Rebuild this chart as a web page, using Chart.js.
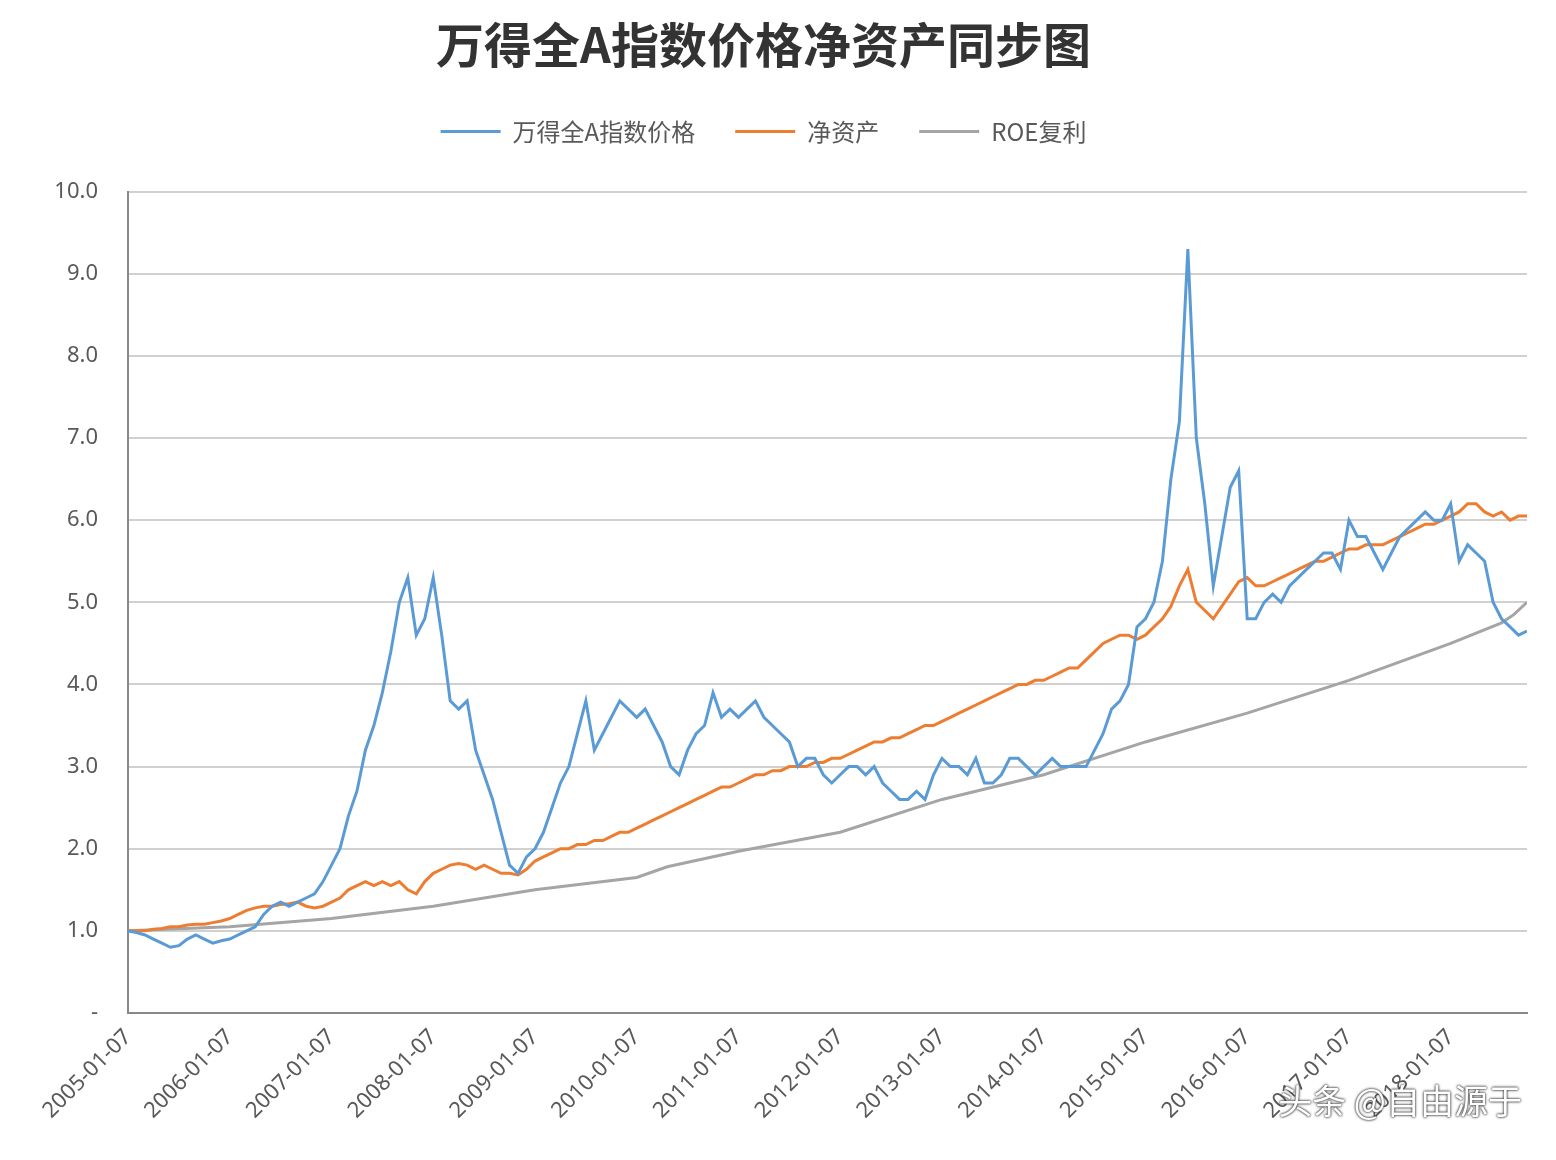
<!DOCTYPE html>
<html>
<head>
<meta charset="utf-8">
<script src="https://cdn.jsdelivr.net/npm/chart.js@4"></script>
<style>
  html, body { margin: 0; padding: 0; background: #fff; }
  #wrap { position: relative; width: 1556px; height: 1160px; }
  #mark { position: absolute; right: 34px; bottom: 36px; font: 34px "Noto Sans CJK SC"; color: #fff;
          text-shadow: 0 0 3px #333, 0 0 2px #333; }
</style>
</head>
<body>
<div id="wrap">
<canvas id="c" width="1556" height="1160"></canvas>
<div id="mark">头条 @自由源于</div>
</div>
<script>
// monthly estimates, first value = 2005-01
const priceMonthly = [
  1.0,0.98,0.95,0.9,0.85,0.8,0.82,0.9,0.95,0.9,0.85,0.88,
  0.9,0.95,1.0,1.05,1.2,1.3,1.35,1.3,1.35,1.4,1.45,1.6,
  1.8,2.0,2.4,2.7,3.2,3.5,3.9,4.4,5.0,5.3,4.6,4.8,
  5.3,4.6,3.8,3.7,3.8,3.2,2.9,2.6,2.2,1.8,1.7,1.9,
  2.0,2.2,2.5,2.8,3.0,3.4,3.8,3.2,3.4,3.6,3.8,3.7,
  3.6,3.7,3.5,3.3,3.0,2.9,3.2,3.4,3.5,3.9,3.6,3.7,
  3.6,3.7,3.8,3.6,3.5,3.4,3.3,3.0,3.1,3.1,2.9,2.8,
  2.9,3.0,3.0,2.9,3.0,2.8,2.7,2.6,2.6,2.7,2.6,2.9,
  3.1,3.0,3.0,2.9,3.1,2.8,2.8,2.9,3.1,3.1,3.0,2.9,
  3.0,3.1,3.0,3.0,3.0,3.0,3.2,3.4,3.7,3.8,4.0,4.7,
  4.8,5.0,5.5,6.5,7.2,9.3,7.0,6.2,5.2,5.8,6.4,6.6,
  4.8,4.8,5.0,5.1,5.0,5.2,5.3,5.4,5.5,5.6,5.6,5.4,
  6.0,5.8,5.8,5.6,5.4,5.6,5.8,5.9,6.0,6.1,6.0,6.0,
  6.2,5.5,5.7,5.6,5.5,5.0,4.8,4.7,4.6,4.65
];
const navMonthly = [
  1.0,1.0,1.0,1.02,1.03,1.05,1.05,1.07,1.08,1.08,1.1,1.12,
  1.15,1.2,1.25,1.28,1.3,1.3,1.32,1.33,1.35,1.3,1.28,1.3,
  1.35,1.4,1.5,1.55,1.6,1.55,1.6,1.55,1.6,1.5,1.45,1.6,
  1.7,1.75,1.8,1.82,1.8,1.75,1.8,1.75,1.7,1.7,1.68,1.75,
  1.85,1.9,1.95,2.0,2.0,2.05,2.05,2.1,2.1,2.15,2.2,2.2,
  2.25,2.3,2.35,2.4,2.45,2.5,2.55,2.6,2.65,2.7,2.75,2.75,
  2.8,2.85,2.9,2.9,2.95,2.95,3.0,3.0,3.0,3.05,3.05,3.1,
  3.1,3.15,3.2,3.25,3.3,3.3,3.35,3.35,3.4,3.45,3.5,3.5,
  3.55,3.6,3.65,3.7,3.75,3.8,3.85,3.9,3.95,4.0,4.0,4.05,
  4.05,4.1,4.15,4.2,4.2,4.3,4.4,4.5,4.55,4.6,4.6,4.55,
  4.6,4.7,4.8,4.95,5.2,5.4,5.0,4.9,4.8,4.95,5.1,5.25,
  5.3,5.2,5.2,5.25,5.3,5.35,5.4,5.45,5.5,5.5,5.55,5.6,
  5.65,5.65,5.7,5.7,5.7,5.75,5.8,5.85,5.9,5.95,5.95,6.0,
  6.05,6.1,6.2,6.2,6.1,6.05,6.1,6.0,6.05,6.05
];
const roeYears = [2005, 2006, 2007, 2008, 2009, 2010, 2010.3, 2011, 2012, 2013, 2014, 2015, 2016, 2017, 2018, 2018.5, 2018.62, 2018.75];
const roeValues = [1.0, 1.05, 1.15, 1.3, 1.5, 1.65, 1.78, 1.97, 2.2, 2.6, 2.9, 3.3, 3.65, 4.05, 4.5, 4.75, 4.85, 5.0];
const seriesNames = ['万得全A指数价格', '净资产', 'ROE复利'];

const toPoints = arr => arr.map((v, i) => ({ x: 2005 + i / 12, y: v }));
const roePoints = roeYears.map((x, i) => ({ x, y: roeValues[i] }));

const txt = '#595959';
new Chart(document.getElementById('c'), {
  type: 'line',
  data: {
    datasets: [
      { label: seriesNames[0], data: toPoints(priceMonthly), borderColor: '#5b9bd5', backgroundColor: '#5b9bd5', borderWidth: 3 },
      { label: seriesNames[1], data: toPoints(navMonthly), borderColor: '#ed7d31', backgroundColor: '#ed7d31', borderWidth: 3 },
      { label: seriesNames[2], data: roePoints, borderColor: '#a5a5a5', backgroundColor: '#a5a5a5', borderWidth: 3 }
    ]
  },
  options: {
    responsive: false,
    animation: false,
    elements: { line: { tension: 0 }, point: { radius: 0 } },
    layout: { padding: { left: 0, right: 29, top: 0, bottom: 0 } },
    scales: {
      x: {
        type: 'linear', min: 2005, max: 2018.75,
        grid: { display: false, drawTicks: true, tickLength: 8, color: '#888' },
        border: { color: '#888', width: 2 },
        ticks: {
          stepSize: 1, color: txt, font: { family: 'Noto Sans', size: 22 },
          maxRotation: 45, minRotation: 45,
          callback: v => Number.isInteger(v) ? v + '-01-07' : ''
        },
        afterFit: s => { s.height = 147; }
      },
      y: {
        min: 0, max: 10,
        grid: { color: '#d0d0d0', lineWidth: 2, drawTicks: false },
        border: { color: '#888', width: 2 },
        ticks: {
          stepSize: 1, color: txt, padding: 30, font: { family: 'Noto Sans', size: 22 },
          callback: v => v === 0 ? '-' : v.toFixed(1)
        },
        afterFit: s => { s.width = 128; }
      }
    },
    plugins: {
      title: {
        display: true, text: '万得全A指数价格净资产同步图', color: '#333',
        font: { family: 'Noto Sans CJK SC', size: 48, weight: 'bold' },
        padding: { top: 16, bottom: 6 }
      },
      legend: {
        labels: {
          color: txt, font: { family: 'Noto Sans CJK SC', size: 24 },
          usePointStyle: true, pointStyle: 'line', pointStyleWidth: 60, padding: 40
        }
      },
      tooltip: { enabled: false }
    }
  },
  plugins: [{
    id: 'legendGap',
    beforeInit(chart) {
      const fit = chart.legend.fit;
      chart.legend.fit = function () { fit.bind(chart.legend)(); this.height += 38; };
    }
  }]
});
</script>
</body>
</html>
